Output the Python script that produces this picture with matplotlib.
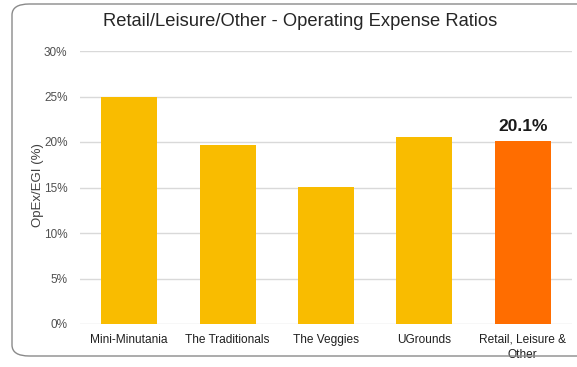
import matplotlib
matplotlib.use("Agg")
import matplotlib.pyplot as plt
from matplotlib.patches import FancyBboxPatch

plt.rcParams['font.family'] = ['Liberation Sans', 'DejaVu Sans']

categories = ["Mini-Minutania", "The Traditionals", "The Veggies", "UGrounds",
              "Retail, Leisure &\nOther"]
values = [25.0, 19.7, 15.1, 20.6, 20.1]
colors = ["#F9BC00", "#F9BC00", "#F9BC00", "#F9BC00", "#FF6D00"]
yticks = [0, 5, 10, 15, 20, 25, 30]
highlight_label = "20.1%"

fig = plt.figure(figsize=(5.77, 3.67), dpi=100)

# rounded frame around the chart
frame = FancyBboxPatch((12 / 577, 11 / 367), 600 / 577, 352 / 367,
                       boxstyle="round,pad=0,rounding_size=0.03",
                       transform=fig.transFigure, fill=False,
                       edgecolor="#8a8a8a", linewidth=1.0, clip_on=False)
fig.patches.append(frame)

ax = fig.add_axes([80 / 577, 1 - 324 / 367, 492 / 577, 273 / 367])
x = range(len(categories))
ax.bar(x, values, width=0.57, color=colors, zorder=3)

ax.set_xlim(-0.5, len(categories) - 0.5)
ax.set_ylim(0, 30)
ax.set_yticks(yticks)
ax.set_yticklabels([f"{t}%" for t in yticks], fontsize=8.5, color="#505050")
ax.set_xticks(list(x))
ax.set_xticklabels(categories, fontsize=8.6, color="#202020", linespacing=1.35)
ax.tick_params(axis="both", length=0)
ax.tick_params(axis="y", pad=9)
ax.tick_params(axis="x", pad=7)
ax.grid(axis="y", color="#d9d9d9", linewidth=1.0, zorder=0)
for s in ax.spines.values():
    s.set_visible(False)

ax.set_ylabel("OpEx/EGI (%)", fontsize=9.5, color="#404040", va="center")
ax.yaxis.set_label_coords(-0.085, 0.51)

ax.text(4, values[4] + 0.8, highlight_label, ha="center", va="bottom",
        fontsize=12.5, fontweight="bold", color="#1a1a1a")

fig.text(300 / 577, 1 - 22 / 367, "Retail/Leisure/Other - Operating Expense Ratios",
         ha="center", va="center", fontsize=13.2, color="#262626")

fig.savefig("out.png", dpi=100)
